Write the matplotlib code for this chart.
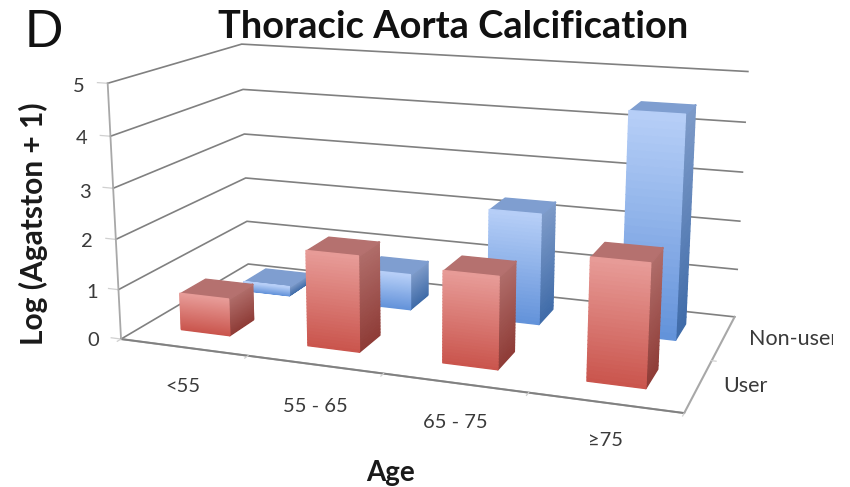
import numpy as np
import matplotlib
matplotlib.use("Agg")
import matplotlib.pyplot as plt
from matplotlib.transforms import Bbox
from matplotlib.colors import to_rgb
from mpl_toolkits.mplot3d.art3d import Poly3DCollection

# ---- data ----
age_groups = ["<55", "55 - 65", "65 - 75", "≥75"]
series_names = ["User", "Non-user"]
user_values = [0.75, 1.89, 1.78, 2.31]
nonuser_values = [0.2, 0.75, 2.27, 4.43]
z_ticks = [0, 1, 2, 3, 4, 5]

# ---- layout ----
W, H = 850, 487
BAR_W, BAR_D, BAR_SHIFT, ROW_SHIFT = 0.39, 0.38, -0.005, 0.02
NX, NY, NZ = 4, 2, 5

# camera calibration: frame landmarks (x, y, z) and where they sit in the image
frame_pts = np.array([
    [0,0,0],[0,0,1],[0,0,2],[0,0,3],[0,0,4],[0,0,5],
    [0,2,0],[0,2,1],[0,2,2],[0,2,3],[0,2,4],[0,2,5],
    [4,2,0],[4,2,1],[4,2,2],[4,2,3],[4,2,4],[4,2,5],
    [4,0,0],[1,0,0],[2,0,0],[3,0,0]], float)
image_pts = np.array([
    [122,337],[119,289],[117,237],[113,188],[110,136],[107,83],
    [248,264],[246,221],[245,179],[245,134],[243,90],[242,44],
    [735,315],[738,269],[739,221],[743,172],[745,123],[748,72],
    [684,410],[248,359],[383,377],[528,395]], float)


def fit_camera(pts, img):
    s = 500.0
    rows = []
    for (X, Y, Z), (u, v) in zip(pts, img / s):
        rows.append([X, Y, Z, 1, 0, 0, 0, 0, -u*X, -u*Y, -u*Z, -u])
        rows.append([0, 0, 0, 0, X, Y, Z, 1, -v*X, -v*Y, -v*Z, -v])
    P = np.linalg.svd(np.array(rows))[2][-1].reshape(3, 4)
    P[:2] *= s
    if P[2] @ np.array([2, 1, 2, 1]) < 0:
        P = -P
    return P / (P[2] @ np.array([2, 1, 2, 1]))


P = fit_camera(frame_pts, image_pts)

fig = plt.figure(figsize=(W/100, H/100), dpi=100, facecolor="white")
ax = fig.add_axes([0, 0, 1, 1], projection="3d", computed_zorder=False)
ax.set_axis_off()
ax.apply_aspect = lambda position=None: None


def get_proj():
    # image pixels (y down) -> display -> the axes' 2D data coordinates
    flip = np.array([[1, 0, 0], [0, -1, H], [0, 0, 1]], float)
    A = ax.transData.inverted().get_matrix() @ flip
    row_x = A[0, 0]*P[0] + A[0, 1]*P[1] + A[0, 2]*P[2]
    row_y = A[1, 0]*P[0] + A[1, 1]*P[1] + A[1, 2]*P[2]
    return np.array([row_x, row_y, [0, 0, 0, -1], P[2]])


ax.get_proj = get_proj


def lerp(c1, c2, t):
    a, b = np.array(to_rgb(c1)), np.array(to_rgb(c2))
    return tuple(a + (b - a) * t)


def add_strips(polys, colors, z):
    col = Poly3DCollection(polys, facecolors=colors, edgecolors=colors, linewidths=1.0)
    col.set_zorder(z)
    ax.add_collection3d(col)


def draw_bar(cx, cy, h, pal, z):
    x0, x1 = cx - BAR_W/2, cx + BAR_W/2
    y0, y1 = cy - BAR_D/2, cy + BAR_D/2
    n = 30
    zs = np.linspace(0, h, n + 1)
    ts = 1 - (zs[:-1] + zs[1:]) / (2 * h)
    add_strips([[(x1, y0, a), (x1, y1, a), (x1, y1, b), (x1, y0, b)]
                for a, b in zip(zs[:-1], zs[1:])],
               [lerp(pal["side_top"], pal["side_bot"], t) for t in ts], z)
    add_strips([[(x0, y0, h), (x1, y0, h), (x1, y1, h), (x0, y1, h)]],
               [to_rgb(pal["top"])], z + 0.1)
    add_strips([[(x0, y0, a), (x1, y0, a), (x1, y0, b), (x0, y0, b)]
                for a, b in zip(zs[:-1], zs[1:])],
               [lerp(pal["front_top"], pal["front_bot"], t) for t in ts], z + 0.2)


RED = dict(front_top="#E89C98", front_bot="#C9544C", side_top="#B06D6A",
           side_bot="#8E3B36", top="#B5716F")
BLUE = dict(front_top="#B7CFF7", front_bot="#6292DA", side_top="#7E9BC9",
            side_bot="#3F6BA8", top="#7F9ED0")

GRID = "#808080"
AXIS = "#a8a8a8"

for zv in z_ticks:
    ax.plot([0, 0, NX], [0, NY, NY], [zv, zv, zv], color=GRID, lw=1.2, zorder=1)
    ax.plot([0, -0.08], [0, 0], [zv, zv], color="#d0d0d0", lw=0.9, zorder=1)
ax.plot([0, 0], [0, 0], [0, NZ], color=AXIS, lw=1.3, zorder=1)
ax.plot([0, NX, NX], [0, 0, NY], [0, 0, 0], color=AXIS, lw=1.5, zorder=1)
ax.plot([0, NX], [0, 0], [0, 0], color=GRID, lw=1.3, zorder=1)
for i in range(NX + 1):
    ax.plot([i, i], [0, -0.05], [0, 0], color="#d0d0d0", lw=0.9, zorder=1)
for j in range(1, NY):
    ax.plot([NX, NX + 0.03], [j, j], [0, 0], color="#d0d0d0", lw=0.9, zorder=1)

for i, v in enumerate(nonuser_values):
    draw_bar(i + 0.5 + BAR_SHIFT, 1.5 + ROW_SHIFT, v, BLUE, 10 + i)
for i, v in enumerate(user_values):
    draw_bar(i + 0.5 + BAR_SHIFT, 0.5 + ROW_SHIFT, v, RED, 20 + i)

# ---- text (positions in image pixels) ----
def txt(px, py, s, **kw):
    return fig.text(px/W, 1 - py/H, s, **kw)


LATO = "Lato"
TC = "#3a3a3a"
txt(453, 27, "Thoracic Aorta Calcification", family=LATO, weight="bold", fontsize=27.4,
    ha="center", va="center", color="#111111")
txt(44, 33, "D", family="Liberation Sans", fontsize=38.5, ha="center", va="center", color="#111111")
txt(33, 224, "Log (Agatston + 1)", family=LATO, weight="bold", fontsize=21.5, rotation=90,
    ha="center", va="center", color="#1a1a1a")
txt(391, 473, "Age", family=LATO, weight="bold", fontsize=20, ha="center", va="center", color="#1a1a1a")

for zv, (px, py) in zip(z_ticks, [(93, 341), (92, 292), (87, 242), (85, 192), (82, 138), (79, 87)]):
    txt(px, py, str(zv), family=LATO, fontsize=14.5, ha="center", va="center", color=TC)
for s, (px, py) in zip(age_groups, [(183, 386), (315, 406), (455, 422), (605, 441)]):
    txt(px, py, s, family=LATO, fontsize=14.5, ha="center", va="center", color=TC)
txt(723, 386, series_names[0], family=LATO, fontsize=15.5, ha="left", va="center", color=TC)
t = txt(749, 339, series_names[1], family=LATO, fontsize=15.5, ha="left", va="center", color=TC)
t.set_clip_box(Bbox([[0, 0], [833, H]]))
t.set_clip_on(True)

fig.savefig("out.png", dpi=100)
